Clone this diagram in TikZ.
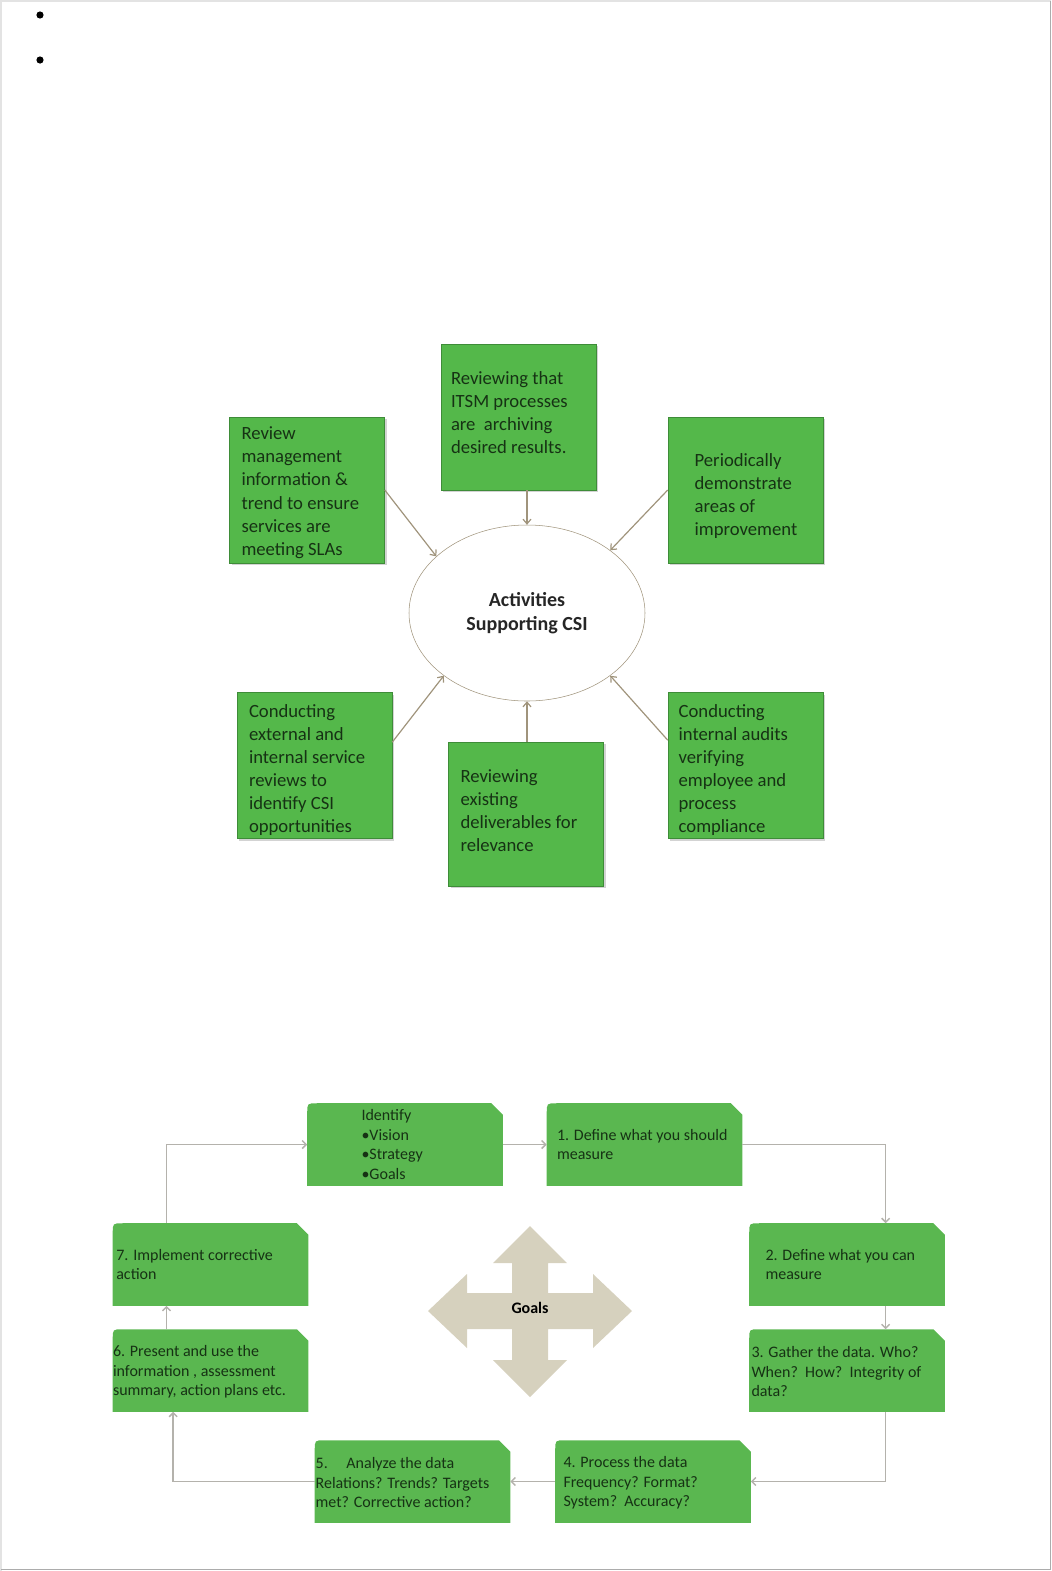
\documentclass[tikz,border=0pt]{standalone}
\usepackage{fontspec}
\setmainfont{Carlito}
\usetikzlibrary{positioning,arrows.meta,shapes.geometric,shadows}

\definecolor{boxgreen}{RGB}{84,184,74}
\definecolor{boxedge}{RGB}{62,140,56}
\definecolor{stepgreen}{RGB}{90,183,80}
\definecolor{inkgreen}{RGB}{22,50,20}
\definecolor{arrowtan}{RGB}{160,148,124}
\definecolor{flowgray}{RGB}{180,178,172}
\definecolor{goalbeige}{RGB}{214,209,190}

% green step box, rounded top left and snipped top right
\newcommand{\snipbox}[1]{%
  \fill[stepgreen] (#1.south west) -- ([yshift=-7.5pt]#1.north west)
    .. controls (#1.north west) .. ([xshift=7.5pt]#1.north west)
    -- ([xshift=-8.5pt]#1.north east) -- ([yshift=-8.5pt]#1.north east)
    -- (#1.south east) -- cycle;}

\begin{document}
\begin{tikzpicture}[x=0.75pt, y=-0.75pt,
  actbox/.style={draw=boxedge, fill=boxgreen, minimum width=116.25pt, minimum height=109.5pt,
    drop shadow={shadow xshift=1.5pt, shadow yshift=-1.5pt, opacity=.35}},
  acttext/.style={inner sep=0pt, align=left, text=inkgreen, font=\fontsize{14}{17.3}\selectfont},
  feed/.style={draw=arrowtan, line width=0.9pt, -{Straight Barb[length=3.5pt,width=6pt]}},
  stepbox/.style={minimum width=146.25pt, minimum height=61.5pt, inner sep=0pt},
  steptext/.style={inner sep=0pt, align=left, text=inkgreen, font=\fontsize{12}{14.6}\selectfont},
  flow/.style={draw=flowgray, line width=1.1pt, -{Straight Barb[length=3pt,width=6pt]}}]
  \useasboundingbox (0,0) rectangle (1052,1571);

  % page frame and the two empty bullets
  \draw[gray!22, line width=1.2pt] (1,1571) -- (1,1) -- (1051,1);
  \draw[gray!65, line width=1.2pt] (1050.5,1) -- (1050.5,1569.5) -- (1,1569.5);
  \fill (40,15) circle[radius=2.7pt];
  \fill (40,60) circle[radius=2.7pt];

  % activities supporting CSI
  \node[actbox] (rvmgmt) at (307,490) {};
  \node[actbox] (rvitsm) at (518.5,417) {};
  \node[actbox] (perdemo) at (745.5,490) {};
  \node[actbox] (extrev) at (314.5,765.5) {};
  \node[actbox, minimum height=108pt] (deliv) at (526,814) {};
  \node[actbox] (audits) at (745.5,765.5) {};

  \node[acttext, right=9pt of rvmgmt.west, yshift=-2pt] (rvmgmttxt) {Review\\management\\information \&\\trend to ensure\\services are\\meeting SLAs};
  \node[acttext, right=7.5pt of rvitsm.west, yshift=3.5pt] (rvitsmtxt) {Reviewing that\\ITSM processes\\are~~archiving\\desired results.};
  \node[acttext, right=20pt of perdemo.west, yshift=-4.5pt] (perdemotxt) {Periodically\\demonstrate\\areas of\\improvement};
  \node[acttext, right=9pt of extrev.west, yshift=-3.5pt] (extrevtxt) {Conducting\\external and\\internal service\\reviews to\\identify CSI\\opportunities};
  \node[acttext, right=9pt of deliv.west, yshift=2.5pt] (delivtxt) {Reviewing\\existing\\deliverables for\\relevance};
  \node[acttext, right=8pt of audits.west, yshift=-3.5pt] (auditstxt) {Conducting\\internal audits\\verifying\\employee and\\process\\compliance};

  \node[ellipse, draw=arrowtan, fill=white, minimum width=177pt, minimum height=132pt,
    align=center, text=black!85, font=\fontsize{15}{17.5}\selectfont\bfseries] (csi) at (527,613) {Activities\\Supporting CSI};

  \draw[feed] (rvmgmt.east) -- (csi.148);
  \draw[feed] (csi.north |- rvitsm.south) -- (csi.north);
  \draw[feed] (perdemo.west) -- (csi.37);
  \draw[feed] ([yshift=17.5pt]extrev.east) -- (csi.217);
  \draw[feed] (csi.south |- deliv.north) -- (csi.south);
  \draw[feed] ([yshift=19pt]audits.west) -- (csi.323);

  % measurement cycle
  \node[stepbox] (ident) at (405,1144.5) {};
  \node[stepbox] (should) at (644.5,1144.5) {};
  \node[stepbox] (can) at (847,1264.5) {};
  \node[stepbox] (gather) at (847,1370.5) {};
  \node[stepbox] (process) at (653,1481.5) {};
  \node[stepbox] (analyze) at (412.5,1481.5) {};
  \node[stepbox] (present) at (210.5,1370.5) {};
  \node[stepbox] (implement) at (210.5,1264.5) {};
  \foreach \s in {ident,should,can,gather,process,analyze,present,implement}
    \snipbox{\s};

  \node[steptext, right=40.5pt of ident.west] (identtxt) {Identify\\•Vision\\•Strategy\\•Goals};
  \node[steptext, right=7.5pt of should.west] (shouldtxt) {1. Define what you should\\measure};
  \node[steptext, right=12pt of can.west] (cantxt) {2. Define what you can\\measure};
  \node[steptext, right=1.5pt of gather.west, yshift=-1pt] (gathertxt) {3. Gather the data. Who?\\When?~~How?~~Integrity of\\data?};
  \node[steptext, right=6pt of process.west, yshift=-1pt] (processtxt) {4. Process the data\\Frequency? Format?\\System?~~Accuracy?};
  \node[steptext, right=0.5pt of analyze.west, yshift=-1pt] (analyzetxt) {5.\hspace{14pt}Analyze the data\\Relations? Trends? Targets\\met? Corrective action?};
  \node[steptext, right=0pt of present.west, yshift=-1pt] (presenttxt) {6. Present and use the\\information , assessment\\summary, action plans etc.};
  \node[steptext, right=2.5pt of implement.west] (implementtxt) {7. Implement corrective\\action};

  % goals cross in the middle
  \begin{scope}[shift={(530,1311)}]
    \fill[goalbeige] (102,0) -- (63,-37) -- (63,-18) -- (18,-18) -- (18,-48) -- (37,-48)
      -- (0,-85) -- (-37,-48) -- (-18,-48) -- (-18,-18) -- (-63,-18) -- (-63,-37)
      -- (-102,0) -- (-63,37) -- (-63,18) -- (-18,18) -- (-18,49) -- (-37,49)
      -- (0,86) -- (37,49) -- (18,49) -- (18,18) -- (63,18) -- (63,37) -- cycle;
  \end{scope}
  \node[font=\fontsize{12}{14}\selectfont\bfseries] (goals) at (530,1307.5) {Goals};

  \draw[flow] ([xshift=-33pt]implement.north) |- (ident.west);
  \draw[flow] (ident.east) -- (should.west);
  \draw[flow] (should.east) -| ([xshift=29pt]can.north);
  \draw[flow] ([xshift=29pt]can.south) -- ([xshift=29pt]gather.north);
  \draw[flow] ([xshift=29pt]gather.south) |- (process.east);
  \draw[flow] (process.west) -- (analyze.east);
  \draw[flow] (analyze.west) -| ([xshift=-28pt]present.south);
  \draw[flow] ([xshift=-33pt]present.north) -- ([xshift=-33pt]implement.south);
\end{tikzpicture}
\end{document}
